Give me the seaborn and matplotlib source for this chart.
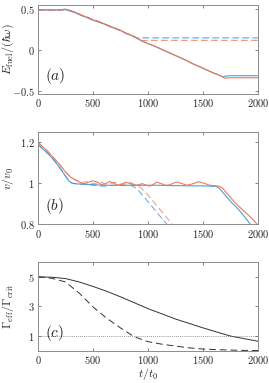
import numpy as np
import pandas as pd
import matplotlib
matplotlib.use("Agg")
import matplotlib.pyplot as plt
import seaborn as sns

sns.set_style("ticks")
plt.rcParams["mathtext.fontset"] = "cm"
plt.rcParams["font.family"] = ["DejaVu Serif"]

BLUE = "#4a9ee0"
ORANGE = "#ee7a55"

# ---------------- panel (a): fuel energy ----------------
a_t_blue = [0, 100, 200, 250, 300, 350, 400, 450, 500, 550, 600, 650, 700, 750, 800, 850, 900,
            950, 1000, 1050, 1100, 1150, 1200, 1250, 1300, 1350, 1400, 1450, 1500, 1550, 1600,
            1650, 1680, 1700, 1750, 1800, 1900, 2000]
a_E_blue = [0.49, 0.49, 0.49, 0.492, 0.475, 0.45, 0.42, 0.395, 0.365, 0.345, 0.32, 0.29, 0.265,
            0.24, 0.205, 0.18, 0.145, 0.11, 0.08, 0.055, 0.025, -0.005, -0.035, -0.065, -0.095,
            -0.125, -0.16, -0.19, -0.22, -0.25, -0.28, -0.305, -0.325, -0.315, -0.31, -0.31,
            -0.31, -0.31]
a_t_orange = a_t_blue
a_E_orange = [0.49, 0.49, 0.49, 0.5, 0.48, 0.455, 0.425, 0.4, 0.37, 0.35, 0.322, 0.295, 0.268,
              0.242, 0.208, 0.182, 0.148, 0.112, 0.082, 0.056, 0.027, -0.004, -0.034, -0.064,
              -0.094, -0.124, -0.158, -0.188, -0.218, -0.248, -0.278, -0.305, -0.325, -0.34,
              -0.335, -0.335, -0.335, -0.335]
a_td_blue = [0, 100, 200, 250, 300, 350, 400, 450, 500, 550, 600, 650, 700, 750, 800, 850, 900,
             930, 1000, 1500, 2000]
a_Ed_blue = [0.49, 0.49, 0.49, 0.492, 0.475, 0.45, 0.42, 0.395, 0.365, 0.345, 0.32, 0.29, 0.265,
             0.24, 0.205, 0.18, 0.148, 0.15, 0.15, 0.15, 0.15]
a_td_orange = [0, 100, 200, 250, 300, 350, 400, 450, 500, 550, 600, 650, 700, 750, 800, 850,
               900, 940, 980, 1500, 2000]
a_Ed_orange = [0.49, 0.49, 0.49, 0.5, 0.48, 0.455, 0.425, 0.4, 0.37, 0.35, 0.322, 0.295, 0.268,
               0.242, 0.208, 0.182, 0.148, 0.11, 0.12, 0.12, 0.12]

# ---------------- panel (b): speed ----------------
b_t_blue = [0, 50, 100, 150, 200, 250, 280, 310, 350, 400, 500, 600, 700, 800, 900, 1000, 1100,
            1200, 1300, 1400, 1500, 1600, 1620, 1650, 1680, 1720, 1760, 1800, 1850, 1900, 1930,
            1950]
b_v_blue = [1.19, 1.165, 1.14, 1.11, 1.075, 1.035, 1.012, 1.0, 0.997, 0.995, 0.993, 0.99, 0.99,
            0.99, 0.99, 0.99, 0.99, 0.988, 0.988, 0.987, 0.987, 0.985, 0.984, 0.975, 0.955,
            0.93, 0.905, 0.885, 0.855, 0.82, 0.8, 0.787]
b_t_orange = [0, 50, 100, 150, 200, 250, 300, 350, 400, 430, 460, 500, 540, 575, 610, 650, 690,
              725, 760, 800, 840, 880, 915, 950, 985, 1020, 1050, 1080, 1120, 1160, 1200, 1230,
              1260, 1300, 1350, 1400, 1460, 1510, 1560, 1600, 1650, 1680, 1710, 1750, 1790,
              1840, 1900, 1950, 1990, 2000]
b_v_orange = [1.2, 1.175, 1.15, 1.12, 1.09, 1.055, 1.028, 1.013, 1.0, 0.998, 1.005, 1.012,
              1.005, 0.994, 0.996, 1.008, 1.0, 0.99, 0.995, 1.005, 0.998, 0.99, 0.992, 0.998,
              0.99, 0.986, 0.995, 1.005, 0.998, 0.99, 0.992, 1.0, 1.006, 1.0, 0.99, 0.996,
              1.007, 1.0, 0.99, 0.988, 0.985, 0.975, 0.955, 0.93, 0.905, 0.88, 0.85, 0.825,
              0.8, 0.795]
b_td_blue = [0, 50, 100, 150, 200, 250, 280, 310, 350, 400, 500, 600, 700, 800, 850, 880, 920,
             1000, 1100, 1170, 1190]
b_vd_blue = [1.19, 1.165, 1.14, 1.11, 1.075, 1.035, 1.012, 1.0, 0.997, 0.995, 0.99, 0.985,
             0.99, 0.988, 0.988, 0.98, 0.96, 0.91, 0.845, 0.8, 0.788]
b_td_orange = [0, 50, 100, 150, 200, 250, 300, 350, 400, 440, 490, 530, 560, 600, 630, 665,
               700, 735, 770, 805, 840, 870, 900, 930, 970, 1050, 1150, 1220, 1240]
b_vd_orange = [1.2, 1.175, 1.15, 1.12, 1.09, 1.055, 1.028, 1.013, 1.003, 1.008, 0.998, 1.0,
               1.008, 1.0, 0.995, 1.0, 1.005, 0.998, 0.993, 0.998, 1.003, 0.996, 0.99, 0.98,
               0.96, 0.91, 0.845, 0.8, 0.788]

# ---------------- panel (c): Gamma ratio ----------------
c_t = [0, 125, 250, 375, 500, 625, 750, 875, 1000, 1125, 1250, 1375, 1500, 1625, 1750, 1875,
       2000]
c_G_solid = [5.0, 4.97, 4.88, 4.65, 4.35, 4.02, 3.65, 3.25, 2.85, 2.5, 2.15, 1.85, 1.55, 1.27,
             1.0, 0.82, 0.65]
c_G_dashed = [5.0, 4.9, 4.65, 3.9, 2.97, 2.2, 1.55, 0.95, 0.62, 0.45, 0.32, 0.2, 0.12, 0.08,
              0.05, 0.03, 0.02]
c_crit = 1.0

xticks = [0, 500, 1000, 1500, 2000]

fig = plt.figure(figsize=(2.69, 3.83), dpi=100)
axa = fig.add_axes([0.141, 0.755, 0.818, 0.232])
axb = fig.add_axes([0.141, 0.415, 0.818, 0.240])
axc = fig.add_axes([0.141, 0.084, 0.818, 0.232])

lw = 0.8
sns.lineplot(x=a_td_blue, y=a_Ed_blue, ax=axa, color=BLUE, lw=lw, linestyle=(0, (6, 3)), alpha=0.9)
sns.lineplot(x=a_td_orange, y=a_Ed_orange, ax=axa, color=ORANGE, lw=lw, linestyle=(0, (6, 3)), alpha=0.8)
sns.lineplot(x=a_t_blue, y=a_E_blue, ax=axa, color=BLUE, lw=lw)
sns.lineplot(x=a_t_orange, y=a_E_orange, ax=axa, color=ORANGE, lw=lw)

sns.lineplot(x=b_td_blue, y=b_vd_blue, ax=axb, color=BLUE, lw=lw, linestyle=(0, (6, 3)), alpha=0.8)
sns.lineplot(x=b_td_orange, y=b_vd_orange, ax=axb, color=ORANGE, lw=lw, linestyle=(0, (6, 3)), alpha=0.7)
sns.lineplot(x=b_t_blue, y=b_v_blue, ax=axb, color=BLUE, lw=lw)
sns.lineplot(x=b_t_orange, y=b_v_orange, ax=axb, color=ORANGE, lw=lw)

sns.lineplot(x=c_t, y=c_G_solid, ax=axc, color="0.2", lw=0.7)
sns.lineplot(x=c_t, y=c_G_dashed, ax=axc, color="0.2", lw=0.7, linestyle=(0, (7, 4)))
axc.axhline(c_crit, color="0.45", lw=0.6, linestyle=(0, (1, 1.5)))

def style(ax, ylim, yticks, ylabels):
    ax.set_xlim(0, 2000)
    ax.set_ylim(*ylim)
    ax.set_xticks(xticks)
    ax.set_xticklabels([f"${v}$" for v in xticks])
    ax.set_yticks(yticks)
    ax.set_yticklabels(ylabels)
    ax.tick_params(direction="in", top=True, right=True, length=2.5, width=0.5,
                   labelsize=7.5, color="0.3", pad=2.5)
    for s in ax.spines.values():
        s.set_color("0.55")
        s.set_linewidth(0.7)
        s.set_visible(True)

style(axa, (-0.53, 0.55), [-0.5, 0, 0.5], ["$-0.5$", "$0$", "$0.5$"])
style(axb, (0.8, 1.25), [0.8, 1.0, 1.2], ["$0.8$", "$1$", "$1.2$"])
style(axc, (0, 6), [1, 3, 5], ["$1$", "$3$", "$5$"])
axc.tick_params(axis="x", pad=2)

axa.set_ylabel(r"$E_{\rm fuel}/(\hbar\omega)$", fontsize=8.5)
axb.set_ylabel(r"$v/v_0$", fontsize=8.5)
axc.set_ylabel(r"$\Gamma_{\rm eff}/\Gamma_{\rm crit}$", fontsize=8.5)
for ax in (axa, axb, axc):
    ax.yaxis.set_label_coords(-0.1, 0.5)
axc.set_xlabel(r"$t/t_0$", fontsize=8.5)
axc.xaxis.set_label_coords(0.5, -0.175)

for ax, lab in [(axa, "(a)"), (axb, "(b)"), (axc, "(c)")]:
    ax.text(0.03, 0.2, f"${lab}$", transform=ax.transAxes, fontsize=11, va="center", ha="left")

fig.savefig("out.png", dpi=100)
